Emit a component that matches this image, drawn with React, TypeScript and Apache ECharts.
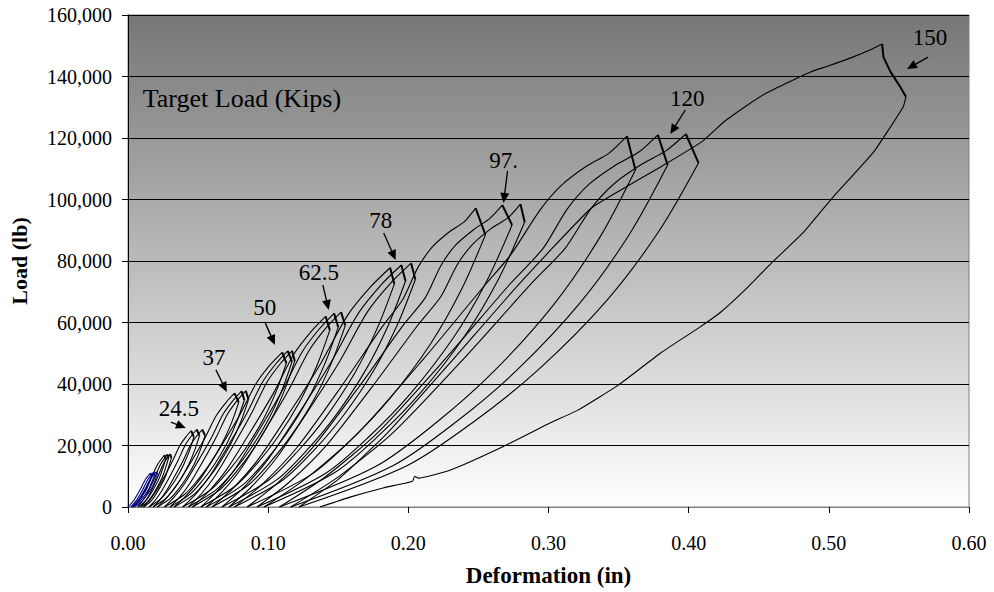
import React, { useEffect, useRef } from "react";
import * as echarts from "echarts";

type Pt = [number, number];
interface Cycle { load: Pt[]; creep?: Pt[]; unload: Pt[] }

// Deformation (in) / Load (lb) — each cycle: loading curve (ends at peak), creep, unloading (starts at creep end)
const level11: Cycle[] = [
  { load: [[0, 0], [0.0042, 2200], [0.0085, 5500], [0.0122, 8800], [0.016, 11000]], unload: [[0.017, 10300], [0.0136, 6180], [0.0094, 3090], [0.006, 1240], [0.002, 0]] },
  { load: [[0.002, 0], [0.0062, 2240], [0.0105, 5600], [0.0142, 8960], [0.018, 11200]], unload: [[0.019, 10500], [0.0153, 6300], [0.0108, 3150], [0.0073, 1260], [0.003, 0]] },
  { load: [[0.003, 0], [0.0074, 2280], [0.012, 5700], [0.0159, 9120], [0.02, 11400]], unload: [[0.021, 10600], [0.0171, 6360], [0.0123, 3180], [0.0086, 1270], [0.004, 0]] },
];
const level17: Cycle[] = [
  { load: [[0.004, 0], [0.0097, 3380], [0.0157, 8450], [0.0207, 13520], [0.026, 16900]], unload: [[0.027, 15800], [0.0224, 9480], [0.0168, 4740], [0.0124, 1900], [0.007, 0]] },
  { load: [[0.007, 0], [0.0125, 3420], [0.0181, 8550], [0.023, 13680], [0.028, 17100]], unload: [[0.029, 16000], [0.0244, 9600], [0.0188, 4800], [0.0144, 1920], [0.009, 0]] },
  { load: [[0.009, 0], [0.0145, 3440], [0.0201, 8600], [0.025, 13760], [0.03, 17200]], unload: [[0.031, 16000], [0.0264, 9600], [0.0208, 4800], [0.0164, 1920], [0.011, 0]] },
];
const level24_5: Cycle[] = [
  { load: [[0.011, 0], [0.0151, 1980], [0.0198, 4960], [0.026, 9920], [0.0317, 14880], [0.0368, 19840], [0.0413, 22820], [0.045, 24800]], unload: [[0.047, 22800], [0.0438, 18240], [0.0396, 13680], [0.0342, 9120], [0.0291, 5700], [0.0236, 2740], [0.015, 0]] },
  { load: [[0.015, 0], [0.0191, 2020], [0.0238, 5040], [0.03, 10080], [0.0357, 15120], [0.0408, 20160], [0.0453, 23180], [0.049, 25200]], unload: [[0.051, 23200], [0.0477, 18560], [0.0434, 13920], [0.0378, 9280], [0.0325, 5800], [0.0269, 2780], [0.018, 0]] },
  { load: [[0.018, 0], [0.0222, 2020], [0.0271, 5040], [0.0334, 10080], [0.0394, 15120], [0.0446, 20160], [0.0492, 23180], [0.053, 25200]], unload: [[0.055, 23200], [0.0516, 18560], [0.0472, 13920], [0.0414, 9280], [0.036, 5800], [0.0302, 2780], [0.021, 0]] },
];
const level37: Cycle[] = [
  { load: [[0.021, 0], [0.0276, 2960], [0.0353, 7400], [0.0452, 14800], [0.0546, 22200], [0.0628, 29600], [0.07, 34040], [0.076, 37000]], unload: [[0.079, 34000], [0.0737, 27200], [0.0668, 20400], [0.0578, 13600], [0.0493, 8500], [0.0403, 4080], [0.026, 0]] },
  { load: [[0.026, 0], [0.0326, 3020], [0.0403, 7540], [0.0502, 15080], [0.0596, 22620], [0.0678, 30160], [0.075, 34680], [0.081, 37700]], unload: [[0.083, 34800], [0.0777, 27840], [0.0708, 20880], [0.0618, 13920], [0.0533, 8700], [0.0443, 4180], [0.03, 0]] },
  { load: [[0.03, 0], [0.0365, 3020], [0.044, 7560], [0.0538, 15120], [0.0629, 22680], [0.071, 30240], [0.0781, 34780], [0.084, 37800]], unload: [[0.086, 35000], [0.0807, 28000], [0.0738, 21000], [0.0648, 14000], [0.0563, 8750], [0.0473, 4200], [0.033, 0]] },
];
const level50: Cycle[] = [
  { load: [[0.033, 0], [0.0422, 4020], [0.053, 10060], [0.0669, 20120], [0.08, 30180], [0.0915, 40240], [0.1015, 46280], [0.11, 50300]], unload: [[0.113, 46800], [0.1056, 37440], [0.096, 28080], [0.0834, 18720], [0.0716, 11700], [0.059, 5620], [0.039, 0]] },
  { load: [[0.039, 0], [0.048, 4060], [0.0585, 10160], [0.072, 20320], [0.0848, 30480], [0.096, 40640], [0.1058, 46740], [0.114, 50800]], unload: [[0.117, 47200], [0.1096, 37760], [0.1, 28320], [0.0874, 18880], [0.0756, 11800], [0.063, 5660], [0.043, 0]] },
  { load: [[0.043, 0], [0.0519, 4060], [0.0622, 10160], [0.0756, 20320], [0.0881, 30480], [0.0992, 40640], [0.1089, 46740], [0.117, 50800]], unload: [[0.119, 47500], [0.1117, 38000], [0.1022, 28500], [0.0898, 19000], [0.0781, 11880], [0.0657, 5700], [0.046, 0]] },
];
const level62_5: Cycle[] = [
  { load: [[0.046, 0], [0.0574, 4960], [0.0707, 12400], [0.0878, 24800], [0.104, 37200], [0.1182, 49600], [0.1306, 57040], [0.141, 62000]], unload: [[0.144, 57500], [0.1348, 46000], [0.1228, 34500], [0.1072, 23000], [0.0925, 14380], [0.0768, 6900], [0.052, 0]] },
  { load: [[0.052, 0], [0.0634, 5040], [0.0767, 12600], [0.0938, 25200], [0.11, 37800], [0.1242, 50400], [0.1366, 57960], [0.147, 63000]], unload: [[0.15, 58500], [0.1406, 46800], [0.1284, 35100], [0.1124, 23400], [0.0974, 14630], [0.0814, 7020], [0.056, 0]] },
  { load: [[0.056, 0], [0.0675, 5070], [0.081, 12680], [0.0982, 25360], [0.1146, 38040], [0.129, 50720], [0.1414, 58330], [0.152, 63400]], unload: [[0.155, 59000], [0.1455, 47200], [0.1332, 35400], [0.117, 23600], [0.1018, 14750], [0.0857, 7080], [0.06, 0]] },
];
const level78: Cycle[] = [
  { load: [[0.06, 0], [0.0752, 6220], [0.093, 15560], [0.1159, 31120], [0.1375, 46680], [0.1565, 62240], [0.173, 71580], [0.187, 77800]], unload: [[0.19, 72500], [0.1777, 58000], [0.1617, 43500], [0.1408, 29000], [0.1211, 18130], [0.1002, 8700], [0.067, 0]] },
  { load: [[0.067, 0], [0.0824, 6300], [0.1003, 15740], [0.1233, 31480], [0.1451, 47220], [0.1643, 62960], [0.1809, 72400], [0.195, 78700]], unload: [[0.198, 73500], [0.1854, 58800], [0.169, 44100], [0.1476, 29400], [0.1274, 18380], [0.106, 8820], [0.072, 0]] },
  { load: [[0.072, 0], [0.0876, 6340], [0.1058, 15860], [0.1292, 31720], [0.1513, 47580], [0.1708, 63440], [0.1877, 72960], [0.202, 79300]], unload: [[0.205, 74000], [0.1921, 59200], [0.1753, 44400], [0.1534, 29600], [0.1328, 18500], [0.1108, 8880], [0.076, 0]] },
];
const level97_5: Cycle[] = [
  { load: [[0.076, 0], [0.0966, 7780], [0.1207, 19440], [0.1517, 38880], [0.1809, 58320], [0.196, 67500], [0.2067, 77760], [0.217, 84500], [0.2291, 89420], [0.24, 92800], [0.248, 97200]], unload: [[0.255, 88500], [0.238, 70800], [0.2159, 53100], [0.187, 35400], [0.1598, 22130], [0.1309, 10620], [0.085, 0]] },
  { load: [[0.085, 0], [0.1068, 7860], [0.1323, 19640], [0.1651, 39280], [0.196, 58920], [0.212, 68000], [0.2233, 78560], [0.234, 85300], [0.247, 90340], [0.258, 93800], [0.267, 98200]], unload: [[0.274, 91700], [0.2558, 73360], [0.2321, 55020], [0.2012, 36680], [0.1721, 22930], [0.1411, 11000], [0.092, 0]] },
  { load: [[0.092, 0], [0.1146, 7880], [0.1409, 19700], [0.1747, 39400], [0.2067, 59100], [0.223, 68300], [0.2349, 78800], [0.246, 85500], [0.2593, 90620], [0.271, 94000], [0.28, 98500]], unload: [[0.283, 92700], [0.2644, 74160], [0.2402, 55620], [0.2086, 37080], [0.1788, 23180], [0.1472, 11120], [0.097, 0]] },
];
const level120: Cycle[] = [
  { load: [[0.097, 0], [0.1281, 9650], [0.1643, 24120], [0.211, 48240], [0.255, 72360], [0.273, 82000], [0.2938, 96480], [0.309, 104500], [0.3275, 110950], [0.343, 115000], [0.356, 120600]], unload: [[0.362, 109600], [0.3366, 87680], [0.3036, 65760], [0.2604, 43840], [0.2198, 27400], [0.1766, 13150], [0.108, 0]] },
  { load: [[0.108, 0], [0.1404, 9680], [0.1782, 24200], [0.2268, 48400], [0.2727, 72600], [0.296, 84000], [0.3132, 96800], [0.329, 105000], [0.3483, 111320], [0.365, 115600], [0.378, 121000]], unload: [[0.385, 111200], [0.3581, 88960], [0.3231, 66720], [0.2774, 44480], [0.2344, 27800], [0.1886, 13340], [0.116, 0]] },
  { load: [[0.116, 0], [0.1498, 9700], [0.1893, 24260], [0.2401, 48520], [0.288, 72780], [0.312, 84200], [0.3303, 97040], [0.347, 105200], [0.367, 111600], [0.384, 115900], [0.398, 121300]], unload: [[0.407, 111900], [0.3785, 89520], [0.3415, 67140], [0.293, 44760], [0.2474, 27980], [0.199, 13430], [0.122, 0]] },
];
const level150: Cycle[] = [
  {
    load: [[0.122, 0], [0.15, 9000], [0.185, 24000], [0.232, 48000], [0.278, 72000], [0.33, 97000], [0.355, 104000], [0.38, 110600], [0.41, 119000], [0.425, 125200], [0.44, 130100], [0.455, 134500], [0.47, 137900], [0.487, 141500], [0.5, 143500], [0.517, 146300], [0.53, 148800], [0.538, 150600]],
    creep: [[0.539, 146300], [0.544, 141500], [0.551, 136600]],
    unload: [[0.555, 133400], [0.553, 130100], [0.532, 115500], [0.503, 100800], [0.482, 89400], [0.459, 79300], [0.44, 70500], [0.423, 63400], [0.408, 58500], [0.38, 50100], [0.35, 39700], [0.321, 31500], [0.301, 27300], [0.267, 19500], [0.23, 12000], [0.207, 9400], [0.2045, 10000], [0.203, 8400], [0.182, 6200], [0.159, 3300], [0.137, 0]],
  },
];

// Annotations (data coordinates)
const annText = ["150", "120", "97.", "78", "62.5", "50", "37", "24.5"];
const annTextPos: Pt[] = [[0.5722, 152800], [0.399, 133000], [0.2679, 112800], [0.1803, 93300], [0.1361, 76400], [0.0976, 65000], [0.0613, 48500], [0.0363, 31900]];
const annArrowFrom: Pt[] = [[0.5708, 146300], [0.3976, 129100], [0.2708, 109300], [0.1824, 89100], [0.139, 72200], [0.0976, 60200], [0.0627, 44600], [0.0306, 27600]];
const annArrowTo: Pt[] = [[0.5558, 142400], [0.3869, 121300], [0.2679, 98900], [0.191, 80300], [0.1432, 64100], [0.1048, 52700], [0.0705, 37400], [0.0413, 25700]];
const titleText = "Target Load (Kips)";
const titlePos: Pt = [0.0105, 133000];

const FONT = "Liberation Serif, serif";

export default function App() {
  const ref = useRef<HTMLDivElement>(null);
  useEffect(() => {
    document.body.style.margin = "0";
    const chart = echarts.init(ref.current!, undefined, { renderer: "svg" });
    const series: any[] = [];
    const addLevel = (cycles: Cycle[], color: string) => {
      cycles.forEach((c) => {
        const common = { type: "line", symbol: "none", showSymbol: false, silent: true, z: 3 };
        series.push({ ...common, data: c.load, smooth: c.load.length > 12 ? 0.15 : 0.25, lineStyle: { color, width: 1.1 } });
        series.push({ ...common, data: [c.load[c.load.length - 1], ...(c.creep || []), c.unload[0]], smooth: false, lineStyle: { color, width: 2 } });
        series.push({ ...common, data: c.unload, smooth: c.unload.length > 10 ? 0.15 : 0.3, lineStyle: { color, width: 1.1 } });
      });
    };
    addLevel(level17, "#000000");
    addLevel(level24_5, "#000000");
    addLevel(level37, "#000000");
    addLevel(level50, "#000000");
    addLevel(level62_5, "#000000");
    addLevel(level78, "#000000");
    addLevel(level97_5, "#000000");
    addLevel(level120, "#000000");
    addLevel(level150, "#000000");
    addLevel(level11, "#000080");

    chart.setOption({
      animation: false,
      grid: {
        left: 127, right: 25, top: 15, bottom: 85, show: true,
        backgroundColor: new echarts.graphic.LinearGradient(0, 0, 0, 1, [
          { offset: 0, color: "#767676" },
          { offset: 1, color: "#ffffff" },
        ]),
        borderColor: "#808080", borderWidth: 1,
      },
      xAxis: {
        type: "value", min: 0, max: 0.6, interval: 0.1,
        name: "Deformation (in)", nameLocation: "middle", nameGap: 57,
        nameTextStyle: { fontFamily: FONT, fontSize: 23, fontWeight: "bold", color: "#000" },
        axisLine: { show: true, onZero: false, lineStyle: { color: "#808080", width: 1 } },
        axisTick: { show: true, length: 6, lineStyle: { color: "#000" } },
        axisLabel: { formatter: (v: number) => v.toFixed(2), margin: 26, fontFamily: FONT, fontSize: 20, color: "#000" },
        splitLine: { show: false },
      },
      yAxis: {
        type: "value", min: 0, max: 160000, interval: 20000,
        name: "Load (lb)", nameLocation: "middle", nameGap: 98,
        nameTextStyle: { fontFamily: FONT, fontSize: 22, fontWeight: "bold", color: "#000" },
        axisLine: { show: true, lineStyle: { color: "#000", width: 1 } },
        axisTick: { show: true, length: 6, lineStyle: { color: "#000" } },
        axisLabel: { formatter: (v: number) => v.toLocaleString("en-US"), margin: 16, fontFamily: FONT, fontSize: 20, color: "#000" },
        splitLine: { show: true, lineStyle: { color: "#000", width: 1 } },
      },
      series,
    });

    const toPx = (p: Pt) => chart.convertToPixel({ gridIndex: 0 }, p) as number[];
    const graphics: any[] = [];
    const tp = toPx(titlePos);
    graphics.push({ type: "text", x: tp[0], y: tp[1], z: 100, style: { text: titleText, fill: "#000", fontFamily: FONT, fontSize: 26, align: "left", verticalAlign: "middle" } });
    annText.forEach((t, i) => {
      const p = toPx(annTextPos[i]);
      graphics.push({ type: "text", x: p[0], y: p[1], z: 100, style: { text: t, fill: "#000", fontFamily: FONT, fontSize: 23, align: "center", verticalAlign: "middle" } });
      const s = toPx(annArrowFrom[i]);
      const e = toPx(annArrowTo[i]);
      const dx = e[0] - s[0], dy = e[1] - s[1];
      const len = Math.sqrt(dx * dx + dy * dy) || 1;
      const ux = dx / len, uy = dy / len;
      const hl = 10, hw = 4.5;
      graphics.push({ type: "line", z: 100, shape: { x1: s[0], y1: s[1], x2: e[0] - ux * (hl - 2), y2: e[1] - uy * (hl - 2) }, style: { stroke: "#000", lineWidth: 1.3 } });
      graphics.push({
        type: "polygon", z: 100,
        shape: { points: [[e[0], e[1]], [e[0] - ux * hl - uy * hw, e[1] - uy * hl + ux * hw], [e[0] - ux * hl + uy * hw, e[1] - uy * hl - ux * hw]] },
        style: { fill: "#000" },
      });
    });
    chart.setOption({ graphic: graphics });

    return () => chart.dispose();
  }, []);
  return <div ref={ref} style={{ width: 994, height: 592, position: "absolute", left: 0, top: 0 }} />;
}
